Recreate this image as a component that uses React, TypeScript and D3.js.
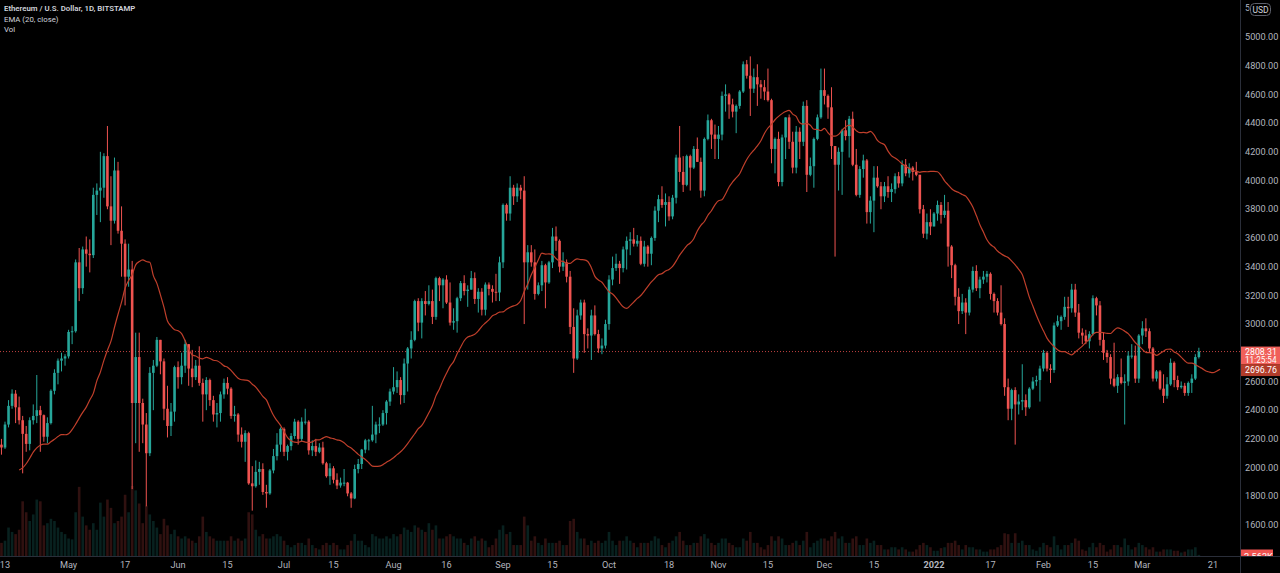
import { useEffect, useRef } from 'react';
import * as d3 from 'd3';

// ETH/USD daily candles, Bitstamp: [open, high, low, close]
type Ohlc = [number, number, number, number];

const firstDay = '2021-04-12';

const apr21: Ohlc[] = [
  [2160, 2200, 2090, 2140], [2140, 2320, 2130, 2300], [2300, 2470, 2280, 2430], [2430, 2545, 2410, 2515],
  [2515, 2540, 2310, 2420], [2420, 2495, 2300, 2330], [2330, 2360, 1960, 2235], [2235, 2290, 2110, 2165],
  [2165, 2350, 2120, 2330], [2330, 2440, 2300, 2360], [2360, 2645, 2310, 2400], [2400, 2430, 2110, 2365],
  [2365, 2370, 2180, 2215], [2215, 2350, 2170, 2310], [2310, 2545, 2300, 2535], [2535, 2685, 2510, 2660],
  [2660, 2760, 2580, 2745], [2745, 2800, 2670, 2760], [2760, 2790, 2710, 2775],
];
const may21: Ohlc[] = [
  [2775, 2960, 2760, 2945], [2945, 2985, 2860, 2950], [2950, 3450, 2940, 3430], [3430, 3530, 3160, 3250],
  [3250, 3540, 3210, 3520], [3520, 3610, 3400, 3490], [3490, 3590, 3360, 3480], [3480, 3950, 3460, 3900],
  [3900, 3980, 3760, 3930], [3930, 4200, 3710, 3950], [3950, 4190, 3880, 4170], [4170, 4380, 3800, 3820],
  [3820, 4030, 3550, 3720], [3720, 4160, 3700, 4070], [4070, 4130, 3630, 3650], [3650, 3820, 3330, 3560],
  [3560, 3590, 3130, 3330], [3330, 3560, 3260, 3380], [3380, 3440, 1850, 2450], [2450, 2940, 2170, 2770],
  [2770, 2940, 2110, 2450], [2450, 2480, 2170, 2300], [2300, 2380, 1730, 2100], [2100, 2700, 2080, 2660],
  [2660, 2750, 2400, 2710], [2710, 2910, 2700, 2890], [2890, 2890, 2650, 2740], [2740, 2760, 2330, 2410],
  [2410, 2570, 2210, 2290], [2290, 2450, 2220, 2390], [2390, 2710, 2320, 2700],
];
const jun21: Ohlc[] = [
  [2700, 2740, 2550, 2630], [2630, 2800, 2580, 2710], [2710, 2890, 2660, 2860], [2860, 2860, 2570, 2690],
  [2690, 2820, 2560, 2630], [2630, 2750, 2610, 2710], [2710, 2845, 2570, 2590], [2590, 2620, 2320, 2510],
  [2510, 2630, 2400, 2610], [2610, 2620, 2430, 2470], [2470, 2500, 2320, 2370], [2370, 2450, 2280, 2380],
  [2380, 2530, 2320, 2510], [2510, 2620, 2480, 2590], [2590, 2630, 2510, 2550], [2550, 2560, 2340, 2360],
  [2360, 2430, 2320, 2370], [2370, 2380, 2180, 2230], [2230, 2280, 2140, 2180], [2180, 2260, 2040, 2240],
  [2240, 2250, 1880, 1890], [1890, 2010, 1700, 1870], [1870, 2050, 1860, 1970], [1970, 2040, 1880, 1990],
  [1990, 2030, 1810, 1830], [1830, 1880, 1720, 1820], [1820, 1990, 1810, 1980], [1980, 2130, 1960, 2080],
  [2080, 2240, 2050, 2160], [2160, 2280, 2110, 2270],
];
const jul21: Ohlc[] = [
  [2270, 2280, 2080, 2110], [2110, 2160, 2050, 2150], [2150, 2240, 2120, 2220], [2220, 2340, 2200, 2320],
  [2320, 2330, 2160, 2200], [2200, 2350, 2180, 2320], [2320, 2410, 2300, 2320], [2320, 2330, 2090, 2120],
  [2120, 2190, 2080, 2150], [2150, 2200, 2080, 2110], [2110, 2170, 2100, 2140], [2140, 2180, 2020, 2030],
  [2030, 2040, 1930, 1940], [1940, 2030, 1880, 1995], [1995, 2010, 1890, 1915], [1915, 1960, 1850, 1875],
  [1875, 1930, 1860, 1895], [1895, 1990, 1870, 1895], [1895, 1900, 1800, 1820], [1820, 1830, 1720, 1785],
  [1785, 2020, 1780, 1990], [1990, 2060, 1960, 2025], [2025, 2130, 1990, 2125], [2125, 2200, 2100, 2190],
  [2190, 2200, 2120, 2190], [2190, 2430, 2180, 2230], [2230, 2320, 2170, 2300], [2300, 2350, 2240, 2300],
  [2300, 2400, 2290, 2380], [2380, 2470, 2300, 2460], [2460, 2550, 2430, 2530],
];
const aug21: Ohlc[] = [
  [2530, 2700, 2510, 2560], [2560, 2670, 2520, 2610], [2610, 2630, 2440, 2505], [2505, 2760, 2450, 2725],
  [2725, 2840, 2530, 2830], [2830, 2950, 2760, 2890], [2890, 3170, 2880, 3160], [3160, 3180, 2950, 3010],
  [3010, 3180, 2900, 3160], [3160, 3230, 3060, 3140], [3140, 3270, 3130, 3160], [3160, 3240, 3000, 3050],
  [3050, 3330, 3030, 3320], [3320, 3330, 3160, 3270], [3270, 3320, 3110, 3310], [3310, 3340, 3140, 3150],
  [3150, 3290, 2990, 3010], [3010, 3110, 2960, 3020], [3020, 3190, 2940, 3180], [3180, 3300, 3160, 3285],
  [3285, 3340, 3200, 3230], [3230, 3270, 3120, 3240], [3240, 3370, 3240, 3320], [3320, 3360, 3140, 3175],
  [3175, 3250, 3080, 3225], [3225, 3250, 3060, 3100], [3100, 3290, 3060, 3275], [3275, 3290, 3200, 3245],
  [3245, 3270, 3150, 3225], [3225, 3350, 3160, 3220], [3220, 3470, 3160, 3430],
];
const sep21: Ohlc[] = [
  [3430, 3840, 3390, 3830], [3830, 3840, 3720, 3770], [3770, 4030, 3720, 3950], [3950, 3970, 3830, 3890],
  [3890, 3980, 3850, 3950], [3950, 3970, 3870, 3930], [3930, 4030, 3000, 3430], [3430, 3550, 3240, 3500],
  [3500, 3550, 3400, 3430], [3430, 3520, 3170, 3210], [3210, 3290, 3200, 3270], [3270, 3440, 3230, 3410],
  [3410, 3420, 3110, 3290], [3290, 3440, 3280, 3430], [3430, 3670, 3390, 3610], [3610, 3680, 3510, 3580],
  [3580, 3590, 3360, 3400], [3400, 3500, 3370, 3430], [3430, 3450, 3290, 3330], [3330, 3370, 2930, 2980],
  [2980, 3110, 2660, 2760], [2760, 3100, 2750, 3060], [3060, 3170, 3030, 3150], [3150, 3170, 2800, 2930],
  [2930, 2970, 2830, 2920], [2920, 3100, 2750, 3060], [3060, 3130, 2920, 2930], [2930, 2960, 2800, 2830],
  [2830, 2900, 2790, 2850], [2850, 3030, 2830, 3000],
];
const oct21: Ohlc[] = [
  [3000, 3340, 2960, 3310], [3310, 3470, 3270, 3390], [3390, 3490, 3370, 3420], [3420, 3440, 3280, 3390],
  [3390, 3540, 3360, 3520], [3520, 3610, 3380, 3580], [3580, 3640, 3480, 3590], [3590, 3670, 3540, 3560],
  [3560, 3620, 3540, 3580], [3580, 3610, 3410, 3420], [3420, 3580, 3400, 3540], [3540, 3550, 3400, 3490],
  [3490, 3610, 3410, 3600], [3600, 3820, 3580, 3790], [3790, 3900, 3710, 3870], [3870, 3960, 3810, 3830],
  [3830, 3910, 3680, 3850], [3850, 3890, 3720, 3750], [3750, 3900, 3730, 3880], [3880, 4180, 3840, 4160],
  [4160, 4380, 3990, 4060], [4060, 4170, 3920, 3970], [3970, 4180, 3960, 4170], [4170, 4180, 3930, 4090],
  [4090, 4240, 4080, 4220], [4220, 4300, 4130, 4130], [4130, 4160, 3880, 3930], [3930, 4300, 3890, 4290],
  [4290, 4460, 4280, 4420], [4420, 4430, 4220, 4320], [4320, 4390, 4150, 4290],
];
const nov21: Ohlc[] = [
  [4290, 4380, 4150, 4320], [4320, 4620, 4280, 4590], [4590, 4670, 4480, 4600], [4600, 4610, 4430, 4530],
  [4530, 4570, 4440, 4480], [4480, 4530, 4330, 4520], [4520, 4630, 4500, 4620], [4620, 4830, 4610, 4810],
  [4810, 4840, 4710, 4730], [4730, 4865, 4450, 4640], [4640, 4780, 4610, 4720], [4720, 4810, 4520, 4670],
  [4670, 4700, 4570, 4650], [4650, 4700, 4560, 4620], [4620, 4780, 4550, 4560], [4560, 4570, 4120, 4220],
  [4220, 4300, 4050, 4290], [4290, 4340, 3960, 3990], [3990, 4320, 3960, 4300], [4300, 4440, 4150, 4440],
  [4440, 4460, 4220, 4270], [4270, 4340, 4050, 4090], [4090, 4380, 4050, 4340], [4340, 4370, 4150, 4270],
  [4270, 4550, 4240, 4520], [4520, 4560, 3920, 4040], [4040, 4160, 4030, 4100], [4100, 4300, 3950, 4290],
  [4290, 4460, 4280, 4440], [4440, 4780, 4430, 4630],
];
const dec21: Ohlc[] = [
  [4630, 4780, 4530, 4590], [4590, 4600, 4430, 4510], [4510, 4650, 4150, 4240], [4240, 4240, 3470, 4110],
  [4110, 4230, 3930, 4200], [4200, 4360, 3900, 4350], [4350, 4420, 4280, 4310], [4310, 4450, 4160, 4430],
  [4430, 4480, 4100, 4110], [4110, 4220, 3890, 3900], [3900, 4100, 3880, 4080], [4080, 4180, 4020, 4140],
  [4140, 4150, 3700, 3780], [3780, 3890, 3700, 3860], [3860, 4100, 3640, 4020], [4020, 4100, 3950, 3960],
  [3960, 3990, 3800, 3890], [3890, 3990, 3850, 3960], [3960, 4030, 3880, 3920], [3920, 3980, 3850, 3940],
  [3940, 4050, 3910, 4030], [4030, 4060, 3950, 3980], [3980, 4140, 3960, 4110], [4110, 4150, 4030, 4050],
  [4050, 4120, 4020, 4090], [4090, 4100, 4000, 4060], [4060, 4130, 4030, 4040], [4040, 4040, 3770, 3800],
  [3800, 3830, 3600, 3630], [3630, 3770, 3590, 3710], [3710, 3800, 3620, 3680],
];
const jan22: Ohlc[] = [
  [3680, 3780, 3680, 3770], [3770, 3860, 3720, 3830], [3830, 3850, 3700, 3760], [3760, 3900, 3740, 3790],
  [3790, 3850, 3400, 3540], [3540, 3550, 3320, 3410], [3410, 3420, 3130, 3190], [3190, 3250, 3000, 3090],
  [3090, 3210, 3070, 3150], [3150, 3180, 2930, 3080], [3080, 3260, 3060, 3240], [3240, 3400, 3220, 3370],
  [3370, 3410, 3230, 3250], [3250, 3330, 3180, 3310], [3310, 3370, 3280, 3330], [3330, 3370, 3290, 3350],
  [3350, 3360, 3170, 3210], [3210, 3220, 3080, 3160], [3160, 3180, 3060, 3080], [3080, 3270, 2990, 3000],
  [3000, 3040, 2500, 2560], [2560, 2620, 2330, 2410], [2410, 2550, 2330, 2540], [2540, 2560, 2160, 2440],
  [2440, 2510, 2370, 2460], [2460, 2720, 2400, 2470], [2470, 2510, 2360, 2420], [2420, 2560, 2410, 2550],
  [2550, 2630, 2540, 2600], [2600, 2640, 2570, 2610], [2610, 2710, 2460, 2690],
];
const feb22: Ohlc[] = [
  [2690, 2820, 2670, 2800], [2800, 2810, 2670, 2690], [2690, 2720, 2590, 2680], [2680, 3010, 2660, 2990],
  [2990, 3060, 2980, 3020], [3020, 3060, 2960, 3050], [3050, 3190, 3030, 3120], [3120, 3190, 2980, 3110],
  [3110, 3280, 3080, 3240], [3240, 3280, 3050, 3080], [3080, 3140, 2900, 2940], [2940, 2970, 2860, 2920],
  [2920, 2960, 2860, 2880], [2880, 2950, 2830, 2930], [2930, 3200, 2920, 3180], [3180, 3190, 3060, 3130],
  [3130, 3160, 2850, 2890], [2890, 2940, 2750, 2800], [2800, 2820, 2730, 2770], [2770, 2790, 2580, 2620],
  [2620, 2870, 2560, 2570], [2570, 2650, 2520, 2630], [2630, 2760, 2580, 2590], [2590, 2650, 2300, 2600],
  [2600, 2810, 2570, 2780], [2780, 2860, 2760, 2780], [2780, 2850, 2590, 2620], [2620, 2930, 2590, 2920],
];
const mar22: Ohlc[] = [
  [2920, 3020, 2860, 2970], [2970, 3040, 2910, 2950], [2950, 2970, 2800, 2830], [2830, 2840, 2600, 2620],
  [2620, 2680, 2600, 2670], [2670, 2680, 2540, 2550], [2550, 2650, 2450, 2500], [2500, 2630, 2480, 2580],
  [2580, 2760, 2570, 2730], [2730, 2740, 2560, 2610], [2610, 2640, 2540, 2560], [2560, 2600, 2550, 2570],
  [2570, 2590, 2500, 2520], [2520, 2600, 2500, 2590], [2590, 2650, 2520, 2620], [2620, 2790, 2610, 2770],
  [2770, 2835, 2760, 2808.31],
];

// daily volume, thousand ETH
const volApr21 = [30, 35, 65, 55, 50, 60, 125, 100, 80, 95, 129, 125, 70, 75, 85, 80, 65, 55, 50];
const volMay21 = [40, 38, 100, 158, 90, 70, 60, 75, 60, 122, 90, 129, 110, 75, 80, 90, 140, 100, 160, 150,
  120, 75, 115, 95, 80, 65, 50, 85, 70, 50, 60];
const volJun21 = [45, 40, 45, 40, 35, 30, 45, 90, 55, 45, 40, 35, 35, 35, 35, 45, 35, 40, 35, 40,
  100, 95, 60, 45, 50, 40, 40, 45, 50, 45];
const volJul21 = [35, 25, 20, 25, 30, 30, 25, 40, 25, 18, 15, 25, 30, 25, 30, 25, 15, 15, 25, 35,
  50, 35, 35, 25, 20, 50, 45, 40, 40, 45, 40];
const volAug21 = [50, 45, 50, 65, 60, 55, 70, 65, 60, 55, 75, 60, 70, 40, 40, 45, 50, 45, 40, 40,
  30, 25, 40, 45, 35, 40, 35, 20, 25, 40, 60];
const volSep21 = [70, 50, 55, 25, 25, 25, 90, 70, 35, 45, 30, 25, 40, 30, 30, 30, 35, 25, 25, 80,
  85, 55, 40, 40, 25, 35, 30, 35, 30, 35];
const volOct21 = [55, 35, 25, 35, 35, 45, 35, 30, 20, 30, 30, 30, 35, 45, 40, 25, 20, 30, 35, 45,
  55, 35, 25, 25, 30, 30, 45, 50, 40, 30, 25];
const volNov21 = [30, 40, 40, 30, 25, 20, 20, 40, 35, 55, 30, 30, 20, 15, 25, 45, 35, 45, 40, 25,
  25, 30, 35, 25, 35, 55, 20, 30, 35, 40];
const volDec21 = [40, 35, 45, 55, 40, 45, 30, 30, 40, 45, 25, 25, 40, 30, 35, 25, 25, 15, 15, 20,
  20, 15, 20, 15, 10, 10, 15, 25, 30, 25, 20];
const volJan22 = [12, 12, 18, 20, 30, 30, 35, 25, 15, 25, 20, 20, 15, 15, 10, 10, 15, 15, 20, 25,
  52, 50, 30, 52, 30, 35, 25, 25, 15, 12, 20];
const volFeb22 = [30, 25, 20, 45, 25, 15, 25, 25, 30, 40, 35, 15, 12, 20, 30, 20, 30, 25, 10, 15,
  25, 25, 20, 40, 25, 15, 20, 30];
const volMar22 = [25, 20, 15, 20, 10, 10, 15, 15, 15, 12, 12, 8, 10, 15, 15, 20, 2.563];

// EMA(20, close), value before the first loaded bar, plotted 6 bars to the right
const emaSeed = 1983;
const emaLength = 20;
const emaOffset = 6;

const priceTicks = [1600, 1800, 2000, 2200, 2400, 2600, 2800, 3000, 3200, 3400, 3600, 3800, 4000, 4200,
  4400, 4600, 4800, 5000, 5200];
const timeTicks: [string, string][] = [
  ['2021-04-13', '13'], ['2021-05-01', 'May'], ['2021-05-17', '17'], ['2021-06-01', 'Jun'],
  ['2021-06-15', '15'], ['2021-07-01', 'Jul'], ['2021-07-15', '15'], ['2021-08-01', 'Aug'],
  ['2021-08-16', '16'], ['2021-09-01', 'Sep'], ['2021-09-15', '15'], ['2021-10-01', 'Oct'],
  ['2021-10-18', '18'], ['2021-11-01', 'Nov'], ['2021-11-15', '15'], ['2021-12-01', 'Dec'],
  ['2021-12-15', '15'], ['2022-01-01', '2022'], ['2022-01-17', '17'], ['2022-02-01', 'Feb'],
  ['2022-02-15', '15'], ['2022-03-01', 'Mar'], ['2022-03-21', '21'],
];
const lastPrice = 2808.31;
const lastEma = 2696.76;
const countdown = '11:25:54';
const lastVolume = '2.563K';

const W = 1280;
const H = 573;
const axisX = 1240;
const axisY = 556;
const up = '#26a69a';
const down = '#ef5350';
const font = 'Roboto, "Noto Sans", sans-serif';

const App = () => {
  const svgRef = useRef<SVGSVGElement | null>(null);

  useEffect(() => {
    const rows = [...apr21, ...may21, ...jun21, ...jul21, ...aug21, ...sep21, ...oct21, ...nov21,
      ...dec21, ...jan22, ...feb22, ...mar22];
    const vols = [...volApr21, ...volMay21, ...volJun21, ...volJul21, ...volAug21, ...volSep21,
      ...volOct21, ...volNov21, ...volDec21, ...volJan22, ...volFeb22, ...volMar22];
    const t0 = new Date(firstDay + 'T00:00:00Z');
    const day = (i: number) => d3.utcDay.offset(t0, i);
    const data = rows.map((r, i) => ({ date: day(i), o: r[0], h: r[1], l: r[2], c: r[3], v: vols[i] }));

    const x = d3.scaleUtc()
      .domain([new Date('2021-04-13T00:00:00Z'), new Date('2022-03-21T00:00:00Z')])
      .range([5, 1213]);
    const y = d3.scaleLinear().domain([1600, 5000]).range([525, 37]);
    const yv = d3.scaleLinear().domain([0, 160]).range([axisY, axisY - 70]);

    const svg = d3.select(svgRef.current);
    svg.selectAll('*').remove();
    svg.attr('width', W).attr('height', H).attr('viewBox', [0, 0, W, H])
      .style('background', '#000').style('font-family', font);

    const defs = svg.append('defs');
    defs.append('clipPath').attr('id', 'pane').append('rect')
      .attr('x', 0).attr('y', 0).attr('width', axisX).attr('height', axisY);
    defs.append('clipPath').attr('id', 'volLbl').append('rect')
      .attr('x', axisX).attr('y', 0).attr('width', W - axisX).attr('height', axisY);
    defs.append('clipPath').attr('id', 'scaleCol').append('rect')
      .attr('x', axisX).attr('y', 0).attr('width', W - axisX).attr('height', axisY);
    defs.append('clipPath').attr('id', 'underUsd').append('rect')
      .attr('x', axisX).attr('y', 0).attr('width', 9.5).attr('height', 20);

    const pane = svg.append('g').attr('clip-path', 'url(#pane)');
    const bw = 2.6;

    // volume
    pane.append('g').selectAll('rect').data(data).join('rect')
      .attr('x', d => x(d.date) - bw / 2)
      .attr('y', d => yv(d.v))
      .attr('width', bw)
      .attr('height', d => axisY - yv(d.v))
      .attr('fill', d => (d.c >= d.o ? up : down))
      .attr('opacity', 0.2);

    // last price line
    pane.append('line')
      .attr('x1', 0).attr('x2', axisX)
      .attr('y1', y(lastPrice)).attr('y2', y(lastPrice))
      .attr('stroke', down).attr('stroke-width', 1).attr('stroke-dasharray', '1,2').attr('opacity', 0.8);

    // candles
    const candles = pane.append('g').selectAll('g').data(data).join('g');
    candles.append('line')
      .attr('x1', d => x(d.date)).attr('x2', d => x(d.date))
      .attr('y1', d => y(d.h)).attr('y2', d => y(d.l))
      .attr('stroke', d => (d.c >= d.o ? up : down)).attr('stroke-width', 1);
    candles.append('rect')
      .attr('x', d => x(d.date) - bw / 2)
      .attr('y', d => y(Math.max(d.o, d.c)))
      .attr('width', bw)
      .attr('height', d => Math.max(1, Math.abs(y(d.o) - y(d.c))))
      .attr('fill', d => (d.c >= d.o ? up : down));

    // EMA, shifted right
    const alpha = 2 / (emaLength + 1);
    const ema: { date: Date; v: number }[] = [{ date: day(-1 + emaOffset), v: emaSeed }];
    let e = emaSeed;
    data.forEach((d, i) => {
      e = e + alpha * (d.c - e);
      ema.push({ date: day(i + emaOffset), v: e });
    });
    const line = d3.line<{ date: Date; v: number }>().x(d => x(d.date)).y(d => y(d.v)).curve(d3.curveMonotoneX);
    pane.append('path').attr('d', line(ema)).attr('fill', 'none')
      .attr('stroke', '#bf3f2b').attr('stroke-width', 1.2);

    // axis borders
    svg.append('line').attr('x1', axisX + 0.5).attr('x2', axisX + 0.5).attr('y1', 0).attr('y2', H)
      .attr('stroke', '#2a2e39');
    svg.append('line').attr('x1', 0).attr('x2', W).attr('y1', axisY + 0.5).attr('y2', axisY + 0.5)
      .attr('stroke', '#2a2e39');

    // price axis (the top tick sits under the USD badge, only its first digit shows)
    const scaleCol = svg.append('g').attr('clip-path', 'url(#scaleCol)');
    scaleCol.append('g').selectAll('text').data(priceTicks.filter(t => t <= 5000)).join('text')
      .attr('x', 1245).attr('y', d => y(d) + 3.2)
      .attr('fill', '#b2b5be').attr('font-size', 9.2)
      .text(d => d.toFixed(2));
    svg.append('g').attr('clip-path', 'url(#underUsd)').selectAll('text')
      .data(priceTicks.filter(t => t > 5000)).join('text')
      .attr('x', 1245).attr('y', d => y(d) + 3.2)
      .attr('fill', '#b2b5be').attr('font-size', 9.2)
      .text(d => d.toFixed(2));

    const usd = svg.append('g');
    usd.append('rect').attr('x', 1250.5).attr('y', 3.5).attr('width', 20).attr('height', 12).attr('rx', 4)
      .attr('fill', '#000').attr('stroke', '#5d606b');
    usd.append('text').attr('x', 1260.5).attr('y', 12.6).attr('text-anchor', 'middle')
      .attr('fill', '#d1d4dc').attr('font-size', 8.5).text('USD');

    // time axis
    svg.append('g').selectAll('text').data(timeTicks).join('text')
      .attr('x', d => x(new Date(d[0] + 'T00:00:00Z')))
      .attr('y', 568)
      .attr('text-anchor', 'middle')
      .attr('fill', '#b2b5be').attr('font-size', 9.2)
      .attr('font-weight', d => (d[1] === '2022' ? 700 : 400))
      .text(d => d[1]);

    // price / ema labels, stacked like the price scale does
    const py = y(lastPrice);
    const pTop = py - 5;
    const pH = 17.5;
    svg.append('rect').attr('x', axisX + 1).attr('y', pTop).attr('width', W - axisX - 1).attr('height', pH)
      .attr('fill', '#f0605a');
    svg.append('text').attr('x', 1245).attr('y', pTop + 8).attr('fill', '#fff').attr('font-size', 8.8)
      .text(lastPrice.toFixed(2));
    svg.append('text').attr('x', 1245).attr('y', pTop + 16).attr('fill', '#fff').attr('font-size', 8.2)
      .text(countdown);
    const eTop = Math.max(y(lastEma) - 6, pTop + pH);
    svg.append('rect').attr('x', axisX + 1).attr('y', eTop).attr('width', W - axisX - 1).attr('height', 12)
      .attr('fill', '#b23c2b');
    svg.append('text').attr('x', 1245).attr('y', eTop + 9).attr('fill', '#fff').attr('font-size', 8.8)
      .text(lastEma.toFixed(2));

    const vl = svg.append('g').attr('clip-path', 'url(#volLbl)');
    vl.append('rect').attr('x', axisX + 1).attr('y', 549.5).attr('width', 32).attr('height', 14)
      .attr('fill', '#ef5350');
    vl.append('text').attr('x', 1244).attr('y', 560).attr('fill', '#fff').attr('font-size', 9.2)
      .text(lastVolume);

    // legend
    const legend = svg.append('g').attr('fill', '#d1d4dc').attr('font-size', 7.8);
    legend.append('text').attr('x', 4).attr('y', 11).attr('font-weight', 600)
      .text('Ethereum / U.S. Dollar, 1D, BITSTAMP');
    legend.append('text').attr('x', 4).attr('y', 21.5).text('EMA (20, close)');
    legend.append('text').attr('x', 4).attr('y', 32).text('Vol');
  }, []);

  return (
    <div style={{ position: 'fixed', left: 0, top: 0, width: W, height: H, background: '#000' }}>
      <svg ref={svgRef}></svg>
    </div>
  );
};

export default App;
